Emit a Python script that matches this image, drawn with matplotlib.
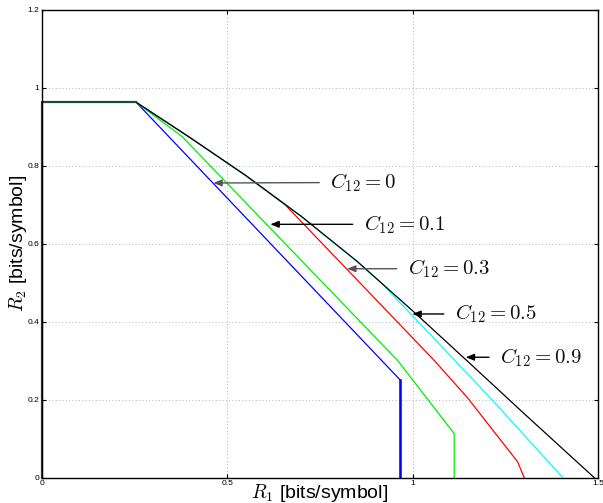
import matplotlib
matplotlib.use("Agg")
import matplotlib.pyplot as plt
import numpy as np

plt.rcParams['font.family'] = ['Liberation Sans', 'DejaVu Sans']
plt.rcParams['mathtext.fontset'] = 'cm'

# Region boundaries (R1, R2) for different C12 values
r1_c0 = [0.0, 0.0, 0.254, 0.967, 0.967]
r2_c0 = [0.0, 0.963, 0.963, 0.250, 0.0]

r1_c01 = [0.0, 0.0, 0.254, 0.378, 0.960, 1.112, 1.112]
r2_c01 = [0.0, 0.963, 0.963, 0.875, 0.300, 0.113, 0.0]

r1_c03 = [0.0, 0.0, 0.254, 0.4, 0.55, 0.655, 1.058, 1.148, 1.283, 1.301]
r2_c03 = [0.0, 0.963, 0.963, 0.872, 0.775, 0.701, 0.301, 0.205, 0.041, 0.0]

r1_c05 = [0.0, 0.0, 0.254, 0.4, 0.55, 0.7, 0.85, 0.914, 0.968, 1.215, 1.405]
r2_c05 = [0.0, 0.963, 0.963, 0.872, 0.775, 0.67, 0.555, 0.501, 0.447, 0.199, 0.0]

r1_c09 = [0.0, 0.0, 0.254, 0.4, 0.55, 0.7, 0.85, 1.0, 1.15, 1.3, 1.49]
r2_c09 = [0.0, 0.963, 0.963, 0.872, 0.775, 0.67, 0.555, 0.428, 0.297, 0.165, 0.0]

labels = [r'$C_{12} = 0$', r'$C_{12} = 0.1$', r'$C_{12} = 0.3$', r'$C_{12} = 0.5$', r'$C_{12} = 0.9$']
arrow_tips = [(0.462, 0.756), (0.616, 0.650), (0.823, 0.536), (0.999, 0.420), (1.143, 0.309)]
text_pos = [(0.778, 0.757), (0.868, 0.650), (0.987, 0.536), (1.114, 0.420), (1.236, 0.309)]

xticks = [0, 0.5, 1, 1.5]
xticklabels = ['0', '0.5', '1', '1.5']
yticks = [0, 0.2, 0.4, 0.6, 0.8, 1.0, 1.2]
yticklabels = ['0', '0.2', '0.4', '0.6', '0.8', '1', '1.2']

fig = plt.figure(figsize=(6.03, 5.03), dpi=100)
ax = fig.add_axes([0.0697, 0.0503, 0.9220, 0.9300])

ax.plot(r1_c0, r2_c0, color='#0000ff', lw=0.9)
ax.plot(r1_c0[-2:], r2_c0[-2:], color='#0000ff', lw=1.8)
ax.plot(r1_c01, r2_c01, color='#00ee00', lw=0.9)
ax.plot(r1_c03, r2_c03, color='#ff0000', lw=0.9)
ax.plot(r1_c05, r2_c05, color='#00ffff', lw=0.9)
ax.plot(r1_c09, r2_c09, color='#000000', lw=0.9)
ax.plot(r1_c09[:3], r2_c09[:3], color='#1a4a44', lw=1.6, clip_on=False)

arrow_colors = ['#555555', 'black', '#555555', 'black', 'black']
for lab, tip, tp, col in zip(labels, arrow_tips, text_pos, arrow_colors):
    ax.annotate('', xy=tip, xytext=(tp[0] - 0.03, tp[1]),
                arrowprops=dict(arrowstyle='-|>,head_length=0.5,head_width=0.2',
                                color=col, lw=1.0, shrinkA=0, shrinkB=0))
    ax.text(tp[0], tp[1], lab, fontsize=15, ha='left', va='center', color='#111111')

ax.set_xlim(0, 1.5)
ax.set_ylim(0, 1.2)
ax.set_xticks(xticks)
ax.set_xticklabels(xticklabels)
ax.set_yticks(yticks)
ax.set_yticklabels(yticklabels)
ax.tick_params(direction='in', top=True, right=True, labelsize=6, length=3, width=0.8, pad=2)
ax.grid(True, linestyle=(0, (1, 3)), color='#999999', lw=0.6)
for s in ax.spines.values():
    s.set_linewidth(1.0)
    s.set_color('black')

ax.set_xlabel(r'$R_1$ [bits/symbol]', fontsize=14, labelpad=-4)
ax.set_ylabel(r'$R_2$ [bits/symbol]', fontsize=14, labelpad=-1)

fig.savefig('out.png', dpi=100)
